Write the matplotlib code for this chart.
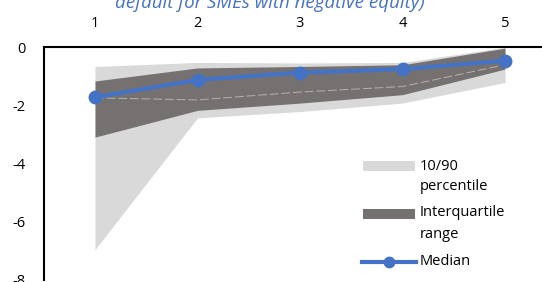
import matplotlib
matplotlib.use("Agg")
import matplotlib.pyplot as plt
from matplotlib.patches import Rectangle
from matplotlib.lines import Line2D

plt.rcParams['font.family'] = ['Open Sans', 'DejaVu Sans']

x = [1, 2, 3, 4, 5]
p10 = [-6.96, -2.43, -2.21, -1.92, -1.21]
p25 = [-3.09, -2.17, -1.92, -1.63, -0.75]
inner = [-1.74, -1.81, -1.54, -1.35, -0.60]
median = [-1.72, -1.12, -0.87, -0.75, -0.46]
p75 = [-1.16, -0.71, -0.66, -0.60, -0.03]
p90 = [-0.66, -0.52, -0.54, -0.52, 0.0]
xticks = [1, 2, 3, 4, 5]
yticks = [0, -2, -4, -6, -8]
title = "default for SMEs with negative equity)"
labels = ["10/90\npercentile", "Interquartile\nrange", "Median"]

light = '#d9d9d9'
dark = '#767171'
blue = '#4472c4'

W, H = 542, 282
fig = plt.figure(figsize=(W / 100, H / 100), dpi=100)
ax = fig.add_axes([43.75 / W, 1 - 279.8 / H, 512.5 / W, (279.8 - 47.3) / H])
ax.set_xlim(0.5, 5.5)
ax.set_ylim(-8, 0)

ax.fill_between(x, p10, p90, color=light, lw=0)
ax.fill_between(x, p25, p75, color=dark, lw=0)
ax.plot(x, inner, color='#b5b2b2', lw=0.7, dashes=(9, 3))
ax.plot(x, median, color=blue, lw=3, marker='o', ms=9, zorder=5, clip_on=False)

ax.xaxis.tick_top()
ax.set_xticks(xticks)
ax.set_yticks(yticks)
ax.set_yticklabels([str(v) for v in yticks])
ax.tick_params(axis='x', length=0, pad=12, labelsize=10.5, colors='black')
ax.tick_params(axis='y', length=0, pad=13, labelsize=10.5, colors='black')
for s in ['right', 'bottom']:
    ax.spines[s].set_visible(False)
ax.spines['top'].set_linewidth(1.5)
ax.spines['left'].set_linewidth(1.5)

fig.text(270 / W, 1 - 2.5 / H, title, ha='center', va='center', color=blue,
         fontsize=13.5, style='italic')

# legend
def fx(px):
    return px / W

def fy(py):
    return 1 - py / H

fig.patches.append(Rectangle((fx(363), fy(170.7)), fx(415) - fx(363), 10 / H,
                             transform=fig.transFigure, color=light, lw=0))
fig.patches.append(Rectangle((fx(363), fy(219)), fx(415) - fx(363), 10 / H,
                             transform=fig.transFigure, color=dark, lw=0))
fig.lines.append(Line2D([fx(362), fx(416)], [fy(261.7), fy(261.7)], transform=fig.transFigure,
                        color=blue, lw=3))
fig.lines.append(Line2D([fx(389)], [fy(261.7)], transform=fig.transFigure,
                        color=blue, marker='o', ms=7.5))
l1 = labels[0].split("\n")
l2 = labels[1].split("\n")
fig.text(fx(420), fy(166), l1[0], ha='left', va='center', fontsize=10.5)
fig.text(fx(420), fy(187), l1[1], ha='left', va='center', fontsize=10.5)
fig.text(fx(420), fy(213), l2[0], ha='left', va='center', fontsize=10.5)
fig.text(fx(420), fy(235), l2[1], ha='left', va='center', fontsize=10.5)
fig.text(fx(420), fy(261.7), labels[2], ha='left', va='center', fontsize=10.5)

fig.savefig('out.png', dpi=100)
